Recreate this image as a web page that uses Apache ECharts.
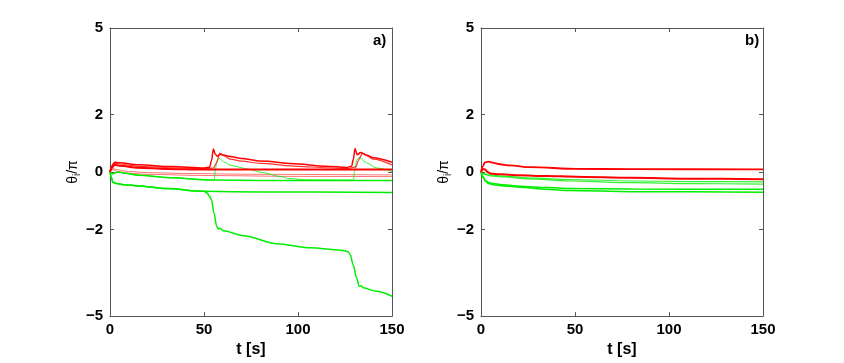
<!DOCTYPE html>
<html>
<head>
<meta charset="utf-8">
<script src="https://cdn.jsdelivr.net/npm/echarts@6/dist/echarts.min.js"></script>
<style>
  html, body { margin: 0; padding: 0; background: #fff; }
  #main { width: 844px; height: 363px; }
</style>
</head>
<body>
<div id="main"></div>
<script>
// tick values
const xTicks = [0, 50, 100, 150];
const yTicks = [-5, -2, 0, 2, 5];

// panel a) -- [t, theta/pi]
const aRed1 = [[0,0],[1,0.22],[2.5,0.34],[5,0.32],[15,0.25],[33,0.19],[50,0.14],[53,0.17],[54,0.4],[55,0.8],[56,0.62],[57,0.55],[58.5,0.62],[61,0.58],[64,0.54],[70,0.47],[80,0.38],[100,0.28],[115,0.2],[126,0.16],[128.5,0.2],[129.5,0.45],[130.3,0.82],[131.5,0.6],[133.3,0.68],[136,0.6],[140,0.5],[150,0.34]];
const aRed2 = [[0,0],[1,0.2],[2.5,0.3],[5,0.28],[15,0.2],[33,0.15],[50,0.12],[55,0.14],[56.5,0.3],[58.5,0.66],[61,0.55],[64,0.45],[70,0.38],[80,0.3],[100,0.2],[115,0.15],[126,0.12],[131,0.18],[132,0.4],[134.4,0.66],[137,0.55],[140,0.45],[150,0.25]];
const aRed3 = [[0,0],[1,0.15],[2.5,0.25],[5,0.22],[15,0.15],[30,0.11],[50,0.09],[150,0.09]];
const aRed4 = [[0,0],[1.5,0.12],[4,0.08],[10,0.02],[20,-0.02],[40,-0.05],[80,-0.08],[150,-0.1]];
const aRed5 = [[0,0],[1.5,0.08],[4,0.02],[10,-0.04],[20,-0.08],[50,-0.12],[100,-0.15],[150,-0.16]];
const aGreen1 = [[0,0],[1.5,-0.06],[4,0],[8,-0.04],[15,-0.11],[33,-0.2],[54,-0.28],[80,-0.29],[150,-0.29]];
const aGreen2 = [[0,0],[1.5,-0.06],[4,0],[8,-0.04],[15,-0.11],[33,-0.2],[54,-0.28],[55.5,-0.27],[56,0.1],[57,0.4],[58,0.48],[61,0.34],[64,0.24],[66.5,0.2],[72.7,0.11],[81.5,-0.02],[90,-0.15],[95.7,-0.23],[105,-0.27],[129.5,-0.28],[130,0],[131.2,0.4],[132.6,0.51],[136.5,0.32],[141.8,0.14],[150,0.02]];
const aGreen3 = [[0,0],[0.8,-0.2],[1.5,-0.35],[3.5,-0.4],[8,-0.44],[15,-0.48],[30,-0.57],[50,-0.67],[80,-0.69],[150,-0.71]];
const aGreen4 = [[0,0],[0.8,-0.2],[1.5,-0.35],[3.5,-0.4],[8,-0.44],[15,-0.48],[30,-0.57],[50,-0.67],[51.5,-0.72],[53,-0.85],[54,-0.96],[55.3,-1.42],[56.7,-1.87],[57.6,-1.98],[58.5,-1.95],[60.3,-2.04],[71,-2.21],[88.7,-2.49],[106.4,-2.63],[124,-2.72],[126.5,-2.76],[127.7,-2.85],[129.4,-3.23],[131.2,-3.68],[132.6,-3.97],[133.5,-3.95],[134.8,-4.02],[141.8,-4.14],[150,-4.31]];

// panel b)
const bRed1 = [[0,0],[1,0.2],[2,0.33],[3.9,0.36],[6,0.33],[10,0.27],[15,0.23],[26.6,0.17],[51,0.11],[80,0.1],[150,0.09]];
const bRed2 = [[0,0],[1,0.1],[2,0.1],[3.5,0],[5,-0.05],[10,-0.08],[20,-0.11],[35,-0.14],[50,-0.16],[80,-0.2],[110,-0.23],[150,-0.25]];
const bGreen1 = [[0,0],[1,-0.05],[2,-0.06],[4.8,-0.1],[12,-0.14],[25,-0.2],[47,-0.26],[80,-0.31],[110,-0.33],[150,-0.34]];
const bGreen2 = [[0,0],[1,-0.07],[2,-0.08],[4.8,-0.13],[12,-0.17],[25,-0.24],[47,-0.31],[80,-0.37],[110,-0.4],[150,-0.42]];
const bGreen3 = [[0,0],[1,-0.15],[2.5,-0.3],[4,-0.36],[6.5,-0.4],[12,-0.44],[20.7,-0.49],[35,-0.54],[47,-0.57],[80,-0.59],[150,-0.6]];
const bGreen4 = [[0,0],[1,-0.18],[2.5,-0.33],[4,-0.4],[6.5,-0.44],[12,-0.48],[20.7,-0.53],[35,-0.6],[47,-0.64],[80,-0.68],[150,-0.7]];

const RED = '#ff0000';
const GREEN = '#00ee00';
const FONT = 'Liberation Sans, Arial, sans-serif';
const BOX = '#555';

function line(data, color, width, opacity, axisIdx) {
  return {
    type: 'line',
    data: data,
    xAxisIndex: axisIdx,
    yAxisIndex: axisIdx,
    symbol: 'none',
    smooth: 0.3,
    smoothMonotone: 'x',
    silent: true,
    lineStyle: { color: color, width: width, opacity: opacity }
  };
}

// bottom/left axes carry labels, top/right only close the box
function xAx(grid, top) {
  return {
    type: 'value', gridIndex: grid, min: 0, max: 150, interval: 50,
    position: top ? 'top' : 'bottom',
    name: top ? '' : 't [s]',
    nameLocation: 'middle', nameGap: 20,
    nameTextStyle: { fontFamily: FONT, fontWeight: 'bold', fontSize: 16, color: '#000' },
    axisLine: { show: true, onZero: false, lineStyle: { color: BOX, width: 1 } },
    axisTick: { show: true, inside: true, length: 4, lineStyle: { color: BOX } },
    axisLabel: { show: !top, margin: 6, fontFamily: FONT, fontWeight: 'bold', fontSize: 15, color: '#000' },
    splitLine: { show: false }
  };
}

function yAx(grid, right) {
  return {
    type: 'value', gridIndex: grid, min: -5, max: 5,
    position: right ? 'right' : 'left',
    name: right ? '' : '{a|θ}{b|i}{a|/π}',
    nameLocation: 'middle', nameGap: 28, nameRotate: 90,
    nameTextStyle: {
      rich: {
        a: { fontFamily: FONT, fontSize: 14, color: '#000' },
        b: { fontFamily: FONT, fontSize: 10, color: '#000', padding: [0, 0, -8, 0] }
      }
    },
    axisLine: { show: true, onZero: false, lineStyle: { color: BOX, width: 1 } },
    axisTick: { show: true, inside: true, length: 4, customValues: yTicks, lineStyle: { color: BOX } },
    axisLabel: {
      show: !right, margin: 7, customValues: yTicks,
      fontFamily: FONT, fontWeight: 'bold', fontSize: 15, color: '#000',
      formatter: v => String(v).replace('-', '\u2212')
    },
    splitLine: { show: false }
  };
}

const chart = echarts.init(document.getElementById('main'));

const option = {
  animation: false,
  backgroundColor: '#fff',
  grid: [
    { left: 110, top: 28, width: 282, height: 294 },
    { left: 481, top: 28, width: 282, height: 294 }
  ],
  xAxis: [xAx(0, false), xAx(0, true), xAx(1, false), xAx(1, true)],
  yAxis: [yAx(0, false), yAx(0, true), yAx(1, false), yAx(1, true)],
  graphic: [
    { type: 'text', left: 373, top: 33, style: { text: 'a)', fontFamily: FONT, fontWeight: 'bold', fontSize: 15, fill: '#000' } },
    { type: 'text', left: 745, top: 33, style: { text: 'b)', fontFamily: FONT, fontWeight: 'bold', fontSize: 15, fill: '#000' } }
  ],
  series: [
    line(aRed4, RED, 1, 0.55, 0),
    line(aRed5, RED, 1, 0.55, 0),
    line(aGreen1, GREEN, 1.5, 1, 0),
    line(aGreen2, GREEN, 1, 0.8, 0),
    line(aGreen3, GREEN, 1.5, 1, 0),
    line(aGreen4, GREEN, 1.5, 1, 0),
    line(aRed3, RED, 2, 1, 0),
    line(aRed2, RED, 1.2, 0.8, 0),
    line(aRed1, RED, 1.5, 1, 0),
    // b)
    line(bGreen1, GREEN, 1.2, 0.8, 2),
    line(bGreen2, GREEN, 1.2, 0.8, 2),
    line(bGreen3, GREEN, 1.5, 1, 2),
    line(bGreen4, GREEN, 1.5, 1, 2),
    line(bRed2, RED, 2, 1, 2),
    line(bRed1, RED, 1.8, 1, 2)
  ]
};

chart.setOption(option);
</script>
</body>
</html>
